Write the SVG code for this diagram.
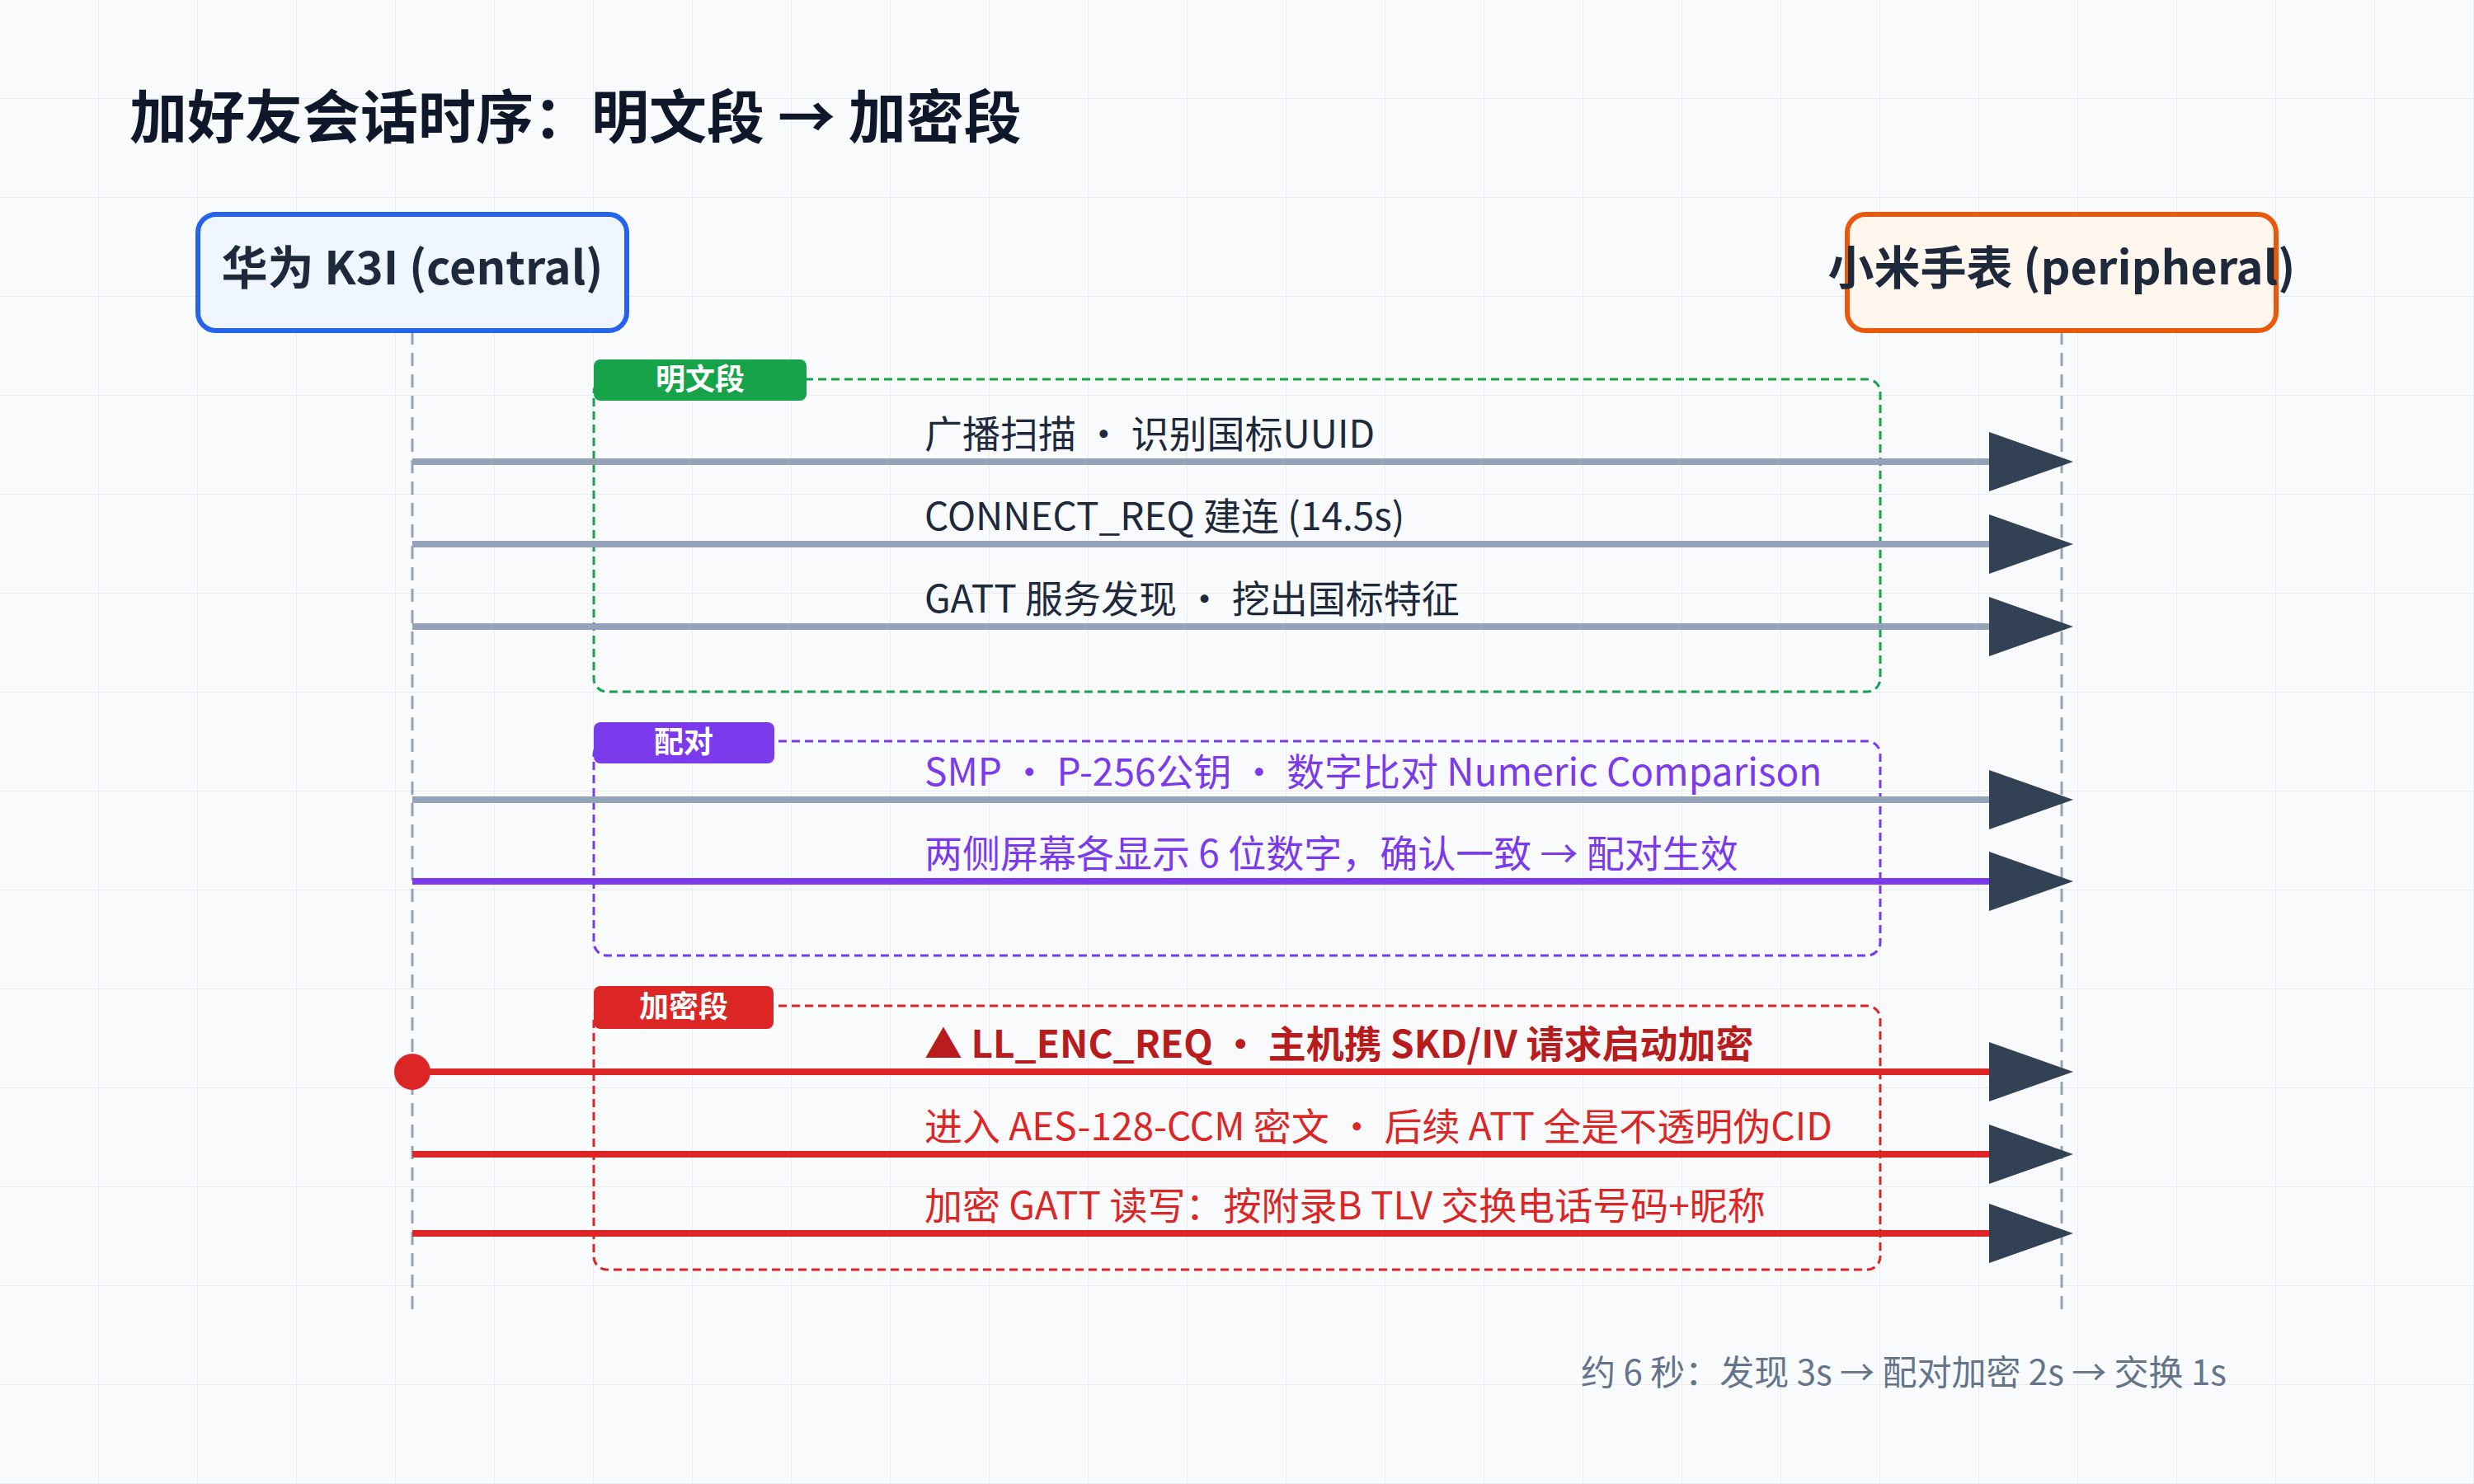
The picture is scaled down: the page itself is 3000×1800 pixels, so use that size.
<svg xmlns="http://www.w3.org/2000/svg" width="3000" height="1800" viewBox="0 0 3000 1800">
<defs>
<pattern id="grid" width="120" height="120" patternUnits="userSpaceOnUse" x="0" y="0">
<path d="M120 0V120M0 120H120" fill="none" stroke="#e2e8f0" stroke-width="1.5"/>
</pattern>
<marker id="ah" viewBox="0 0 102 72" refX="0" refY="36" markerWidth="102" markerHeight="72" markerUnits="userSpaceOnUse" orient="auto">
<path d="M0 0L102 36L0 72Z" fill="#334155"/>
</marker>
</defs>
<style>
text{font-family:"Noto Sans CJK SC","Noto Sans",sans-serif}
.title{font-size:70px;font-weight:700;fill:#0f172a}
.node{font-size:56px;font-weight:700;fill:#1e293b;text-anchor:middle}
.tab{font-size:36px;font-weight:700;fill:#fff;text-anchor:middle}
.msg{font-size:46px;fill:#1e293b}
.life{stroke:#94a3b8;stroke-width:3;stroke-dasharray:16 10}
.box{fill:none;stroke-width:3;stroke-dasharray:10 6}
.ln{stroke-width:8;fill:none}
</style>
<rect width="3000" height="1800" fill="#f8fafc"/>
<rect width="3000" height="1800" fill="url(#grid)"/>
<text class="title" x="157" y="168">加好友会话时序：明文段 → 加密段</text>
<g id="lifelines">
<line class="life" x1="500" y1="402" x2="500" y2="1592"/>
<line class="life" x1="2500" y1="402" x2="2500" y2="1592"/>
</g>
<g id="central">
<rect x="240" y="260" width="520" height="141" rx="22" fill="#eff6ff" stroke="#2563eb" stroke-width="6"/>
<text class="node" x="500" y="345">华为 K3I (central)</text>
</g>
<g id="peripheral">
<rect x="2240" y="260" width="520" height="141" rx="22" fill="#fff7ed" stroke="#ea580c" stroke-width="6"/>
<text class="node" x="2500" y="345">小米手表 (peripheral)</text>
</g>
<g id="phase-plain">
<rect class="box" x="720" y="460" width="1560" height="379" rx="16" stroke="#16a34a"/>
<rect x="720" y="436" width="258" height="50" rx="8" fill="#16a34a"/>
<text class="tab" x="849" y="473">明文段</text>
</g>
<g id="phase-pair">
<rect class="box" x="720" y="899" width="1560" height="260" rx="16" stroke="#7c3aed"/>
<rect x="720" y="876" width="219" height="50" rx="8" fill="#7c3aed"/>
<text class="tab" x="829" y="913">配对</text>
</g>
<g id="phase-enc">
<rect class="box" x="720" y="1220" width="1560" height="320" rx="16" stroke="#dc2626"/>
<rect x="720" y="1196" width="218" height="52" rx="8" fill="#dc2626"/>
<text class="tab" x="829" y="1234">加密段</text>
</g>
<g id="connectors">
<line class="ln" x1="500" y1="560" x2="2412" y2="560" stroke="#94a3b8" marker-end="url(#ah)"/>
<line class="ln" x1="500" y1="660" x2="2412" y2="660" stroke="#94a3b8" marker-end="url(#ah)"/>
<line class="ln" x1="500" y1="760" x2="2412" y2="760" stroke="#94a3b8" marker-end="url(#ah)"/>
<line class="ln" x1="500" y1="970" x2="2412" y2="970" stroke="#94a3b8" marker-end="url(#ah)"/>
<line class="ln" x1="500" y1="1069" x2="2412" y2="1069" stroke="#7c3aed" marker-end="url(#ah)"/>
<circle cx="500" cy="1300" r="22" fill="#dc2626"/>
<line class="ln" x1="500" y1="1300" x2="2412" y2="1300" stroke="#dc2626" marker-end="url(#ah)"/>
<line class="ln" x1="500" y1="1400" x2="2412" y2="1400" stroke="#dc2626" marker-end="url(#ah)"/>
<line class="ln" x1="500" y1="1496" x2="2412" y2="1496" stroke="#dc2626" marker-end="url(#ah)"/>
</g>
<g id="labels">
<text class="msg" x="1121" y="543">广播扫描 · 识别国标UUID</text>
<text class="msg" x="1121" y="643">CONNECT_REQ 建连 (14.5s)</text>
<text class="msg" x="1121" y="743">GATT 服务发现 · 挖出国标特征</text>
<text class="msg" x="1121" y="953" fill="#7c3aed" style="fill:#7c3aed">SMP · P-256公钥 · 数字比对 Numeric Comparison</text>
<text class="msg" x="1121" y="1052" style="fill:#7c3aed">两侧屏幕各显示 6 位数字，确认一致 → 配对生效</text>
<text class="msg" x="1121" y="1283" style="fill:#b91c1c;font-weight:700">▲ LL_ENC_REQ · 主机携 SKD/IV 请求启动加密</text>
<text class="msg" x="1121" y="1383" style="fill:#dc2626">进入 AES-128-CCM 密文 · 后续 ATT 全是不透明伪CID</text>
<text class="msg" x="1121" y="1479" style="fill:#dc2626">加密 GATT 读写：按附录B TLV 交换电话号码+昵称</text>
</g>
<text x="2700" y="1680" text-anchor="end" style="font-size:42px;fill:#64748b">约 6 秒：发现 3s → 配对加密 2s → 交换 1s</text>
</svg>
